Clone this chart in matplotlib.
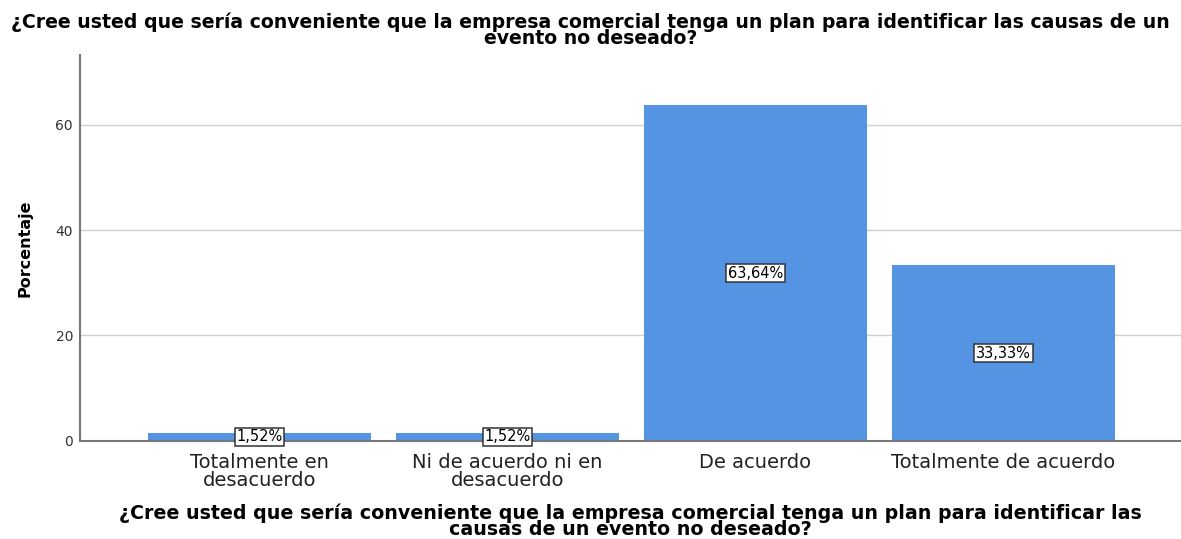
import matplotlib
matplotlib.use('Agg')
import matplotlib.pyplot as plt

# Datos de la pregunta
categorias = ["Totalmente en\ndesacuerdo", "Ni de acuerdo ni en\ndesacuerdo",
              "De acuerdo", "Totalmente de acuerdo"]
porcentajes = [1.52, 1.52, 63.64, 33.33]
etiquetas = ["1,52%", "1,52%", "63,64%", "33,33%"]

titulo = ("¿Cree usted que sería conveniente que la empresa comercial tenga un plan para identificar las causas de un\n"
          "evento no deseado?")
titulo_x = ("¿Cree usted que sería conveniente que la empresa comercial tenga un plan para identificar las\n"
            "causas de un evento no deseado?")

fig = plt.figure(figsize=(11.81, 5.39), dpi=100)
ax = fig.add_axes([0.0677, 0.182, 0.9323, 0.716])

x = range(len(categorias))
ax.bar(x, porcentajes, width=0.9, color="#5593e3", zorder=2)

# Etiquetas de valor en medio de cada barra
for xi, v, t in zip(x, porcentajes, etiquetas):
    ax.text(xi, v / 2, t, ha="center", va="center", fontsize=10.5, zorder=3,
            bbox=dict(boxstyle="square,pad=0.12", fc="white", ec="#333333", lw=1.1))

ax.set_xlim(-0.724, 3.716)
ax.set_ylim(0, 73.2)
ax.set_yticks([0, 20, 40, 60])
ax.yaxis.grid(True, color="#cfcfcf", lw=1, zorder=0)
ax.set_axisbelow(True)

ax.set_xticks(list(x))
ax.set_xticklabels(categorias, fontsize=14, color="#222222", linespacing=0.9)
ax.tick_params(axis="x", length=0, pad=9)
ax.tick_params(axis="y", length=0, labelsize=10, pad=5, colors="#333333")

for s in ["top", "right"]:
    ax.spines[s].set_visible(False)
ax.spines["left"].set_color("#777777")
ax.spines["bottom"].set_color("#777777")
ax.spines["left"].set_linewidth(1.5)
ax.spines["bottom"].set_linewidth(1.5)

ax.set_ylabel("Porcentaje", fontsize=11.5, fontweight="bold")
ax.yaxis.set_label_coords(-0.043, 0.5)
ax.set_xlabel(titulo_x, fontsize=13.7, fontweight="bold", linespacing=0.8, labelpad=10)

fig.suptitle(titulo, fontsize=13.6, fontweight="bold", y=0.977, linespacing=0.8)

fig.savefig("out.png", dpi=100)
